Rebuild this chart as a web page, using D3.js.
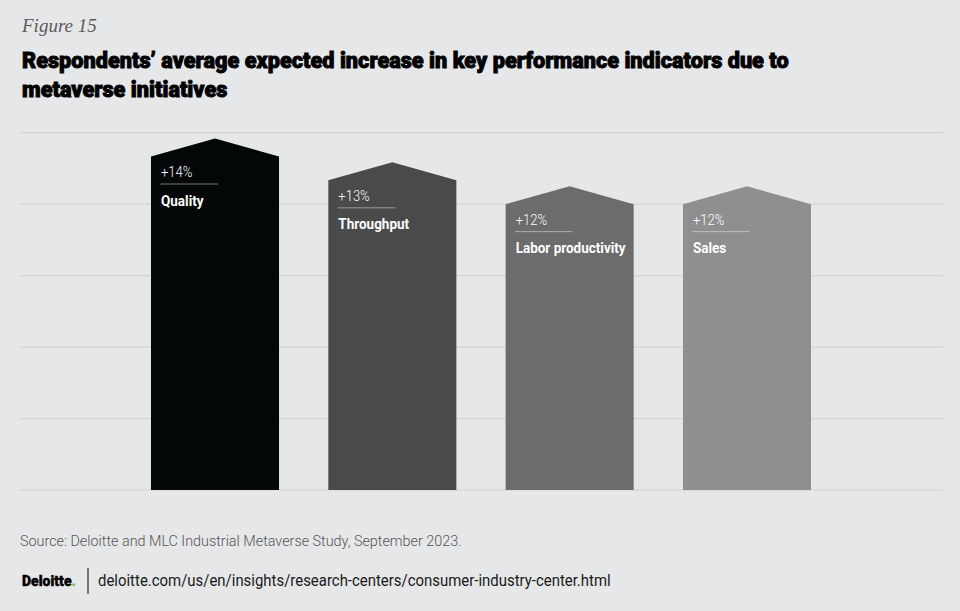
<!DOCTYPE html>
<html>
<head>
<meta charset="utf-8">
<title>Figure 15</title>
<style>
  html, body { margin: 0; padding: 0; background: #e6e7e9; }
  svg { display: block; }
</style>
</head>
<body>
<svg width="960" height="611"></svg>
<script src="https://cdn.jsdelivr.net/npm/d3@7"></script>
<script>

// KPI increase expected from metaverse initiatives (%)
const categories = ["Quality", "Throughput", "Labor productivity", "Sales"];
const values = [14, 13, 12, 12];
const barColors = ["#030708", "#4a4a4a", "#6b6c6b", "#8f8f8f"];
const gridTicks = [0, 3, 6, 9, 12, 15];

const svg = d3.select("svg");

svg.append("rect")
   .attr("width", 960).attr("height", 611)
   .attr("fill", "#e6e7e9");

// squeeze a text horizontally, like the condensed face of the original
function squeeze(sel, x, y, f) {
  sel.attr("x", 0).attr("y", 0)
     .attr("transform", "translate(" + x + "," + y + ") scale(" + f + ",1)");
}

// header
svg.append("text")
   .attr("x", 22).attr("y", 32)
   .style("font-family", "'Liberation Serif', serif")
   .style("font-style", "italic")
   .style("font-size", "19px")
   .style("fill", "#5a5a5a")
   .text("Figure 15");

const titleLines = [
  "Respondents\u2019 average expected increase in key performance indicators due to",
  "metaverse initiatives"
];
const title = svg.append("g")
   .selectAll("text")
   .data(titleLines)
   .enter()
   .append("text")
   .style("font-family", "Roboto, sans-serif")
   .style("font-weight", 900)
   .style("font-size", "22px")
   .style("fill", "#000")
   .style("stroke", "#000")
   .style("stroke-width", 0.9)
   .text(d => d);

const tf = 767 / title.node().getComputedTextLength();
title.each(function (d, i) { squeeze(d3.select(this), 22, 68 + i * 29, tf); });

// scales
const x = d3.scaleBand()
            .domain(categories)
            .range([151, 811])
            .paddingInner(0.278)
            .paddingOuter(0);

const y = d3.scaleLinear()
            .domain([0, 15])
            .range([490, 132.7]);

// gridlines
svg.append("g")
   .selectAll("line")
   .data(gridTicks)
   .enter()
   .append("line")
   .attr("x1", 19).attr("x2", 943)
   .attr("y1", d => y(d)).attr("y2", d => y(d))
   .style("stroke", "#d3d4d6")
   .style("stroke-width", 1.2);

// house shaped bars
const peak = 18;
const data = categories.map((c, i) => ({ name: c, value: values[i], color: barColors[i] }));
const bars = svg.append("g")
   .selectAll("g")
   .data(data)
   .enter()
   .append("g");

bars.append("path")
    .attr("d", d => {
      const x0 = x(d.name), x1 = x0 + x.bandwidth(), top = y(d.value);
      return "M" + x0 + "," + y(0) +
             "L" + x0 + "," + top +
             "L" + (x0 + x.bandwidth() / 2) + "," + (top - peak) +
             "L" + x1 + "," + top +
             "L" + x1 + "," + y(0) + "Z";
    })
    .style("fill", d => d.color);

const valueText = bars.append("text")
    .style("font-family", "Roboto, sans-serif")
    .style("font-size", "14px")
    .style("font-weight", 300)
    .style("fill", "#fff")
    .text(d => "+" + d.value + "%");

bars.append("line")
    .attr("x1", d => x(d.name) + 9.5)
    .attr("x2", d => x(d.name) + 67)
    .attr("y1", d => y(d.value) + 27.5)
    .attr("y2", d => y(d.value) + 27.5)
    .style("stroke", "#fff")
    .style("stroke-opacity", 0.45)
    .style("stroke-width", 1);

const nameText = bars.append("text")
    .style("font-family", "Roboto, sans-serif")
    .style("font-size", "14.5px")
    .style("font-weight", 700)
    .style("fill", "#fff")
    .text(d => d.name);

const nf = 110 / nameText.filter(d => d.name === "Labor productivity").node().getComputedTextLength();
nameText.each(function (d) { squeeze(d3.select(this), x(d.name) + 10, y(d.value) + 49, nf); });
valueText.each(function (d) { squeeze(d3.select(this), x(d.name) + 10, y(d.value) + 20.5, nf); });

// footer
const source = svg.append("text")
   .style("font-family", "Roboto, sans-serif")
   .style("font-size", "15px")
   .style("font-weight", 300)
   .style("fill", "#555")
   .text("Source: Deloitte and MLC Industrial Metaverse Study, September 2023.");
squeeze(source, 20, 546, 442 / source.node().getComputedTextLength());

const logo = svg.append("text")
   .attr("x", 22).attr("y", 586)
   .style("font-family", "Roboto, sans-serif")
   .style("font-weight", 900)
   .style("font-size", "14px")
   .style("fill", "#000")
   .style("stroke", "#000")
   .style("stroke-width", 0.4);
logo.append("tspan").text("Deloitte");
logo.append("tspan").style("fill", "#86bc25").style("stroke", "#86bc25").text(".");

svg.append("line")
   .attr("x1", 88).attr("x2", 88)
   .attr("y1", 568).attr("y2", 594)
   .style("stroke", "#000")
   .style("stroke-width", 1);

const url = svg.append("text")
   .style("font-family", "Roboto, sans-serif")
   .style("font-size", "16px")
   .style("fill", "#1a1a1a")
   .text("deloitte.com/us/en/insights/research-centers/consumer-industry-center.html");
squeeze(url, 98, 586, 513 / url.node().getComputedTextLength());

</script>
</body>
</html>
